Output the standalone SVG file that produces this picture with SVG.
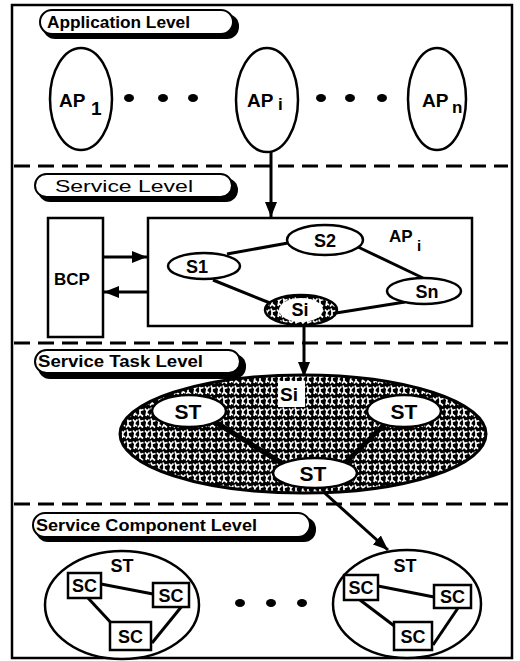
<svg xmlns="http://www.w3.org/2000/svg" width="520" height="661" viewBox="0 0 520 661">
<style>
text{font-family:"Liberation Sans",Arial,sans-serif;font-weight:bold;fill:#000}
.lbl{font-size:16px}
.node{fill:#fff;stroke:#000;stroke-width:2.5}
.line{stroke:#000;stroke-width:3;fill:none}
.dash{stroke:#000;stroke-width:3;stroke-dasharray:16 8;fill:none}
.dot{fill:#000}
.pillshadow{fill:#000}
.pill{fill:#fff;stroke:#000;stroke-width:2}
</style>
<defs>
<marker id="ah" markerUnits="userSpaceOnUse" markerWidth="16" markerHeight="12" refX="15" refY="6" orient="auto">
<path d="M0,0 L15,6 L0,12 z" fill="#000"/>
</marker>
<pattern id="tex" patternUnits="userSpaceOnUse" width="12" height="11">
<rect width="12" height="11" fill="#000"/>
<path d="M1 1.5 l2 2.5 l2.5-2.5 M3 4 l-1 5 M2.5 6.5 l2.5 1.5 M7 0.5 l1 3 l3.5-1 M8 3.5 l0 3.5 l-2 2.5 M8 7 l3 2.5" stroke="#fff" stroke-width="1.7" fill="none"/>
</pattern>
</defs>
<rect x="12" y="5" width="500" height="653" fill="#fff" stroke="#000" stroke-width="2.5"/>

<g id="levels">
<line class="dash" x1="14" y1="166" x2="508" y2="166"/>
<line class="dash" x1="14" y1="343" x2="508" y2="343"/>
<line class="dash" x1="14" y1="504" x2="508" y2="504"/>
</g>

<g id="label-application">
<rect class="pillshadow" x="43" y="14" width="196" height="25" rx="12"/>
<rect class="pill" x="40" y="10" width="193" height="24" rx="12"/>
<text class="lbl" x="47" y="28" textLength="143" lengthAdjust="spacingAndGlyphs">Application Level</text>
</g>
<g id="label-service">
<rect class="pillshadow" x="38" y="178" width="200" height="24" rx="12"/>
<rect class="pill" x="35" y="174" width="197" height="23" rx="11.5"/>
<text class="lbl" x="55" y="192" style="font-weight:normal" textLength="138" lengthAdjust="spacingAndGlyphs">Service Level</text>
</g>
<g id="label-task">
<rect class="pillshadow" x="38" y="354" width="208" height="25" rx="12"/>
<rect class="pill" x="35" y="350" width="205" height="23" rx="11.5"/>
<text class="lbl" x="38" y="367" textLength="165" lengthAdjust="spacingAndGlyphs">Service Task Level</text>
</g>
<g id="label-component">
<rect class="pillshadow" x="36" y="517" width="280" height="25" rx="12"/>
<rect class="pill" x="33" y="513" width="277" height="24" rx="12"/>
<text class="lbl" x="36" y="531" textLength="221" lengthAdjust="spacingAndGlyphs">Service Component Level</text>
</g>

<g id="ap1">
<ellipse class="node" cx="81" cy="99" rx="31" ry="51"/>
<text x="59" y="107" font-size="19">AP</text>
<text x="91" y="115" font-size="19">1</text>
</g>
<g id="dots1">
<ellipse class="dot" cx="129" cy="98" rx="5" ry="4"/>
<ellipse class="dot" cx="163" cy="98" rx="5" ry="4"/>
<ellipse class="dot" cx="193" cy="98" rx="5" ry="4"/>
<ellipse class="dot" cx="321" cy="98" rx="5" ry="4"/>
<ellipse class="dot" cx="350" cy="98" rx="5" ry="4"/>
<ellipse class="dot" cx="382" cy="98" rx="5" ry="4"/>
</g>
<g id="api">
<ellipse class="node" cx="267" cy="100" rx="31" ry="52"/>
<text x="247" y="107" font-size="19">AP</text>
<text x="278" y="110" font-size="17">i</text>
</g>
<g id="apn">
<ellipse class="node" cx="437" cy="99" rx="29" ry="51"/>
<text x="422" y="107" font-size="19">AP</text>
<text x="452" y="113" font-size="17">n</text>
</g>

<g id="bcp">
<rect class="node" x="48" y="218" width="55" height="119"/>
<text x="54" y="285" font-size="17">BCP</text>
</g>
<g id="api-box">
<rect class="node" x="148" y="218" width="324" height="108"/>
<text x="389" y="242" font-size="17">AP</text>
<text x="417" y="251" font-size="15">i</text>
</g>

<g id="connectors">
<line class="line" x1="271" y1="152" x2="271" y2="217" marker-end="url(#ah)"/>
<line class="line" x1="103" y1="257" x2="147" y2="257" marker-end="url(#ah)"/>
<line class="line" x1="148" y1="292" x2="104" y2="292" marker-end="url(#ah)"/>
<line class="line" x1="227" y1="254" x2="288" y2="243"/>
<line class="line" x1="358" y1="247" x2="423" y2="278"/>
<line class="line" x1="213" y1="280" x2="270" y2="303"/>
<line class="line" x1="336" y1="313" x2="405" y2="302"/>
<line class="line" x1="304" y1="325" x2="304" y2="377" marker-end="url(#ah)"/>
<line class="line" x1="318" y1="487" x2="388" y2="550" marker-end="url(#ah)"/>
</g>

<g id="s2">
<ellipse class="node" cx="325" cy="240" rx="38" ry="15"/>
<text x="325" y="247" font-size="18" text-anchor="middle">S2</text>
</g>
<g id="s1">
<ellipse class="node" cx="204" cy="266" rx="36" ry="13"/>
<text x="197" y="273" font-size="18" text-anchor="middle">S1</text>
</g>
<g id="sn">
<ellipse class="node" cx="424" cy="291" rx="37" ry="13"/>
<text x="427" y="298" font-size="18" text-anchor="middle">Sn</text>
</g>
<g id="si">
<ellipse cx="301" cy="310" rx="36" ry="15" fill="url(#tex)" stroke="#000" stroke-width="2.5"/>
<ellipse cx="301" cy="310" rx="22" ry="12" fill="#fff"/>
<text x="300" y="316" font-size="18" text-anchor="middle">Si</text>
</g>

<g id="si-task">
<ellipse cx="303" cy="434" rx="183" ry="59" fill="url(#tex)" stroke="#000" stroke-width="3"/>
<line x1="215" y1="422" x2="285" y2="465" stroke="#000" stroke-width="5"/>
<line x1="385" y1="424" x2="345" y2="463" stroke="#000" stroke-width="5"/>
<rect x="278" y="381" width="27" height="26" fill="#fff"/>
<text x="280" y="401" font-size="19">Si</text>
</g>
<g id="st-left">
<ellipse class="node" cx="189" cy="411" rx="37" ry="16"/>
<text x="188" y="419" font-size="21" text-anchor="middle">ST</text>
</g>
<g id="st-right">
<ellipse class="node" cx="404" cy="411" rx="37" ry="16"/>
<text x="404" y="419" font-size="21" text-anchor="middle">ST</text>
</g>
<g id="st-bottom">
<ellipse class="node" cx="315" cy="473" rx="42" ry="15"/>
<text x="313" y="481" font-size="21" text-anchor="middle">ST</text>
</g>

<g id="st-comp-left">
<ellipse class="node" cx="122" cy="605" rx="77" ry="54"/>
<text x="122" y="572" font-size="18" text-anchor="middle">ST</text>
<line class="line" x1="101" y1="584" x2="153" y2="594"/>
<line class="line" x1="88" y1="598" x2="114" y2="626"/>
<line class="line" x1="182" y1="606" x2="152" y2="643"/>
<rect class="node" x="68" y="573" width="33" height="25"/>
<text x="84.5" y="592" font-size="18" text-anchor="middle">SC</text>
<rect class="node" x="153" y="583" width="36" height="24"/>
<text x="171" y="602" font-size="18" text-anchor="middle">SC</text>
<rect class="node" x="110" y="622" width="41" height="28"/>
<text x="130.5" y="643" font-size="18" text-anchor="middle">SC</text>
</g>
<g id="dots2">
<ellipse class="dot" cx="240" cy="603" rx="5" ry="4"/>
<ellipse class="dot" cx="271" cy="603" rx="5" ry="4"/>
<ellipse class="dot" cx="302" cy="603" rx="5" ry="4"/>
</g>
<g id="st-comp-right">
<ellipse class="node" cx="407" cy="604" rx="74" ry="54"/>
<text x="405" y="572" font-size="18" text-anchor="middle">ST</text>
<line class="line" x1="378" y1="586" x2="434" y2="597"/>
<line class="line" x1="360" y1="600" x2="397" y2="628"/>
<line class="line" x1="458" y1="608" x2="433" y2="645"/>
<rect class="node" x="344" y="575" width="34" height="25"/>
<text x="361" y="594" font-size="18" text-anchor="middle">SC</text>
<rect class="node" x="434" y="585" width="37" height="23"/>
<text x="452.5" y="603" font-size="18" text-anchor="middle">SC</text>
<rect class="node" x="394" y="622" width="38" height="28"/>
<text x="413" y="643" font-size="18" text-anchor="middle">SC</text>
</g>
</svg>
